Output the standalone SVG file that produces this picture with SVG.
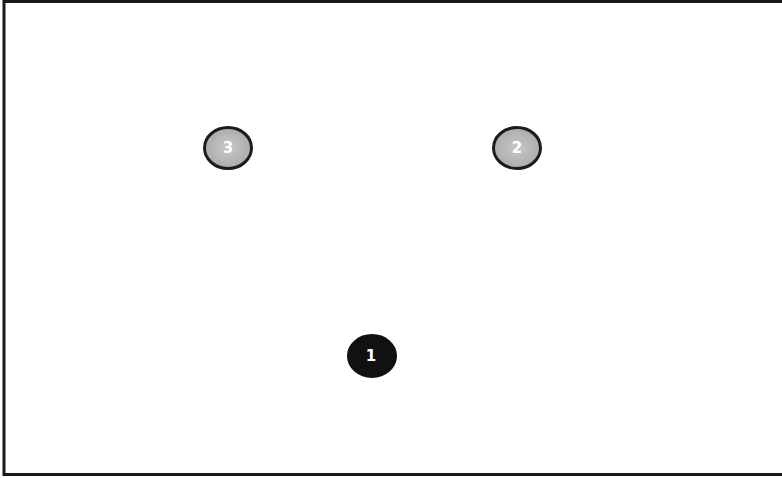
<svg xmlns="http://www.w3.org/2000/svg" width="782" height="478" viewBox="0 0 782 478">
<defs>
<style>
.gray{stroke:#1c1c1c;stroke-width:3}
.dark{fill:#111;stroke:#111;stroke-width:2}
.lbl{font-family:"DejaVu Sans",sans-serif;font-weight:bold;font-size:15px;fill:#fff;text-anchor:middle;dominant-baseline:central}
</style>
<radialGradient id="g" cx="50%" cy="50%" r="50%">
<stop offset="0" stop-color="#c8c8c8"/>
<stop offset="1" stop-color="#acacac"/>
</radialGradient>
</defs>
<rect x="4" y="1.5" width="800" height="473" fill="#fff" stroke="#1a1a1a" stroke-width="3"/>
<g id="connectors"></g>
<g id="node3">
<ellipse cx="228" cy="148" rx="23.5" ry="20.5" class="gray" fill="url(#g)"/>
<text x="228" y="148" class="lbl">3</text>
</g>
<g id="node2">
<ellipse cx="517" cy="148" rx="23.5" ry="20.5" class="gray" fill="url(#g)"/>
<text x="517" y="148" class="lbl">2</text>
</g>
<g id="node1">
<ellipse cx="372" cy="356" rx="24" ry="21" class="dark"/>
<text x="371" y="356" class="lbl">1</text>
</g>
</svg>
